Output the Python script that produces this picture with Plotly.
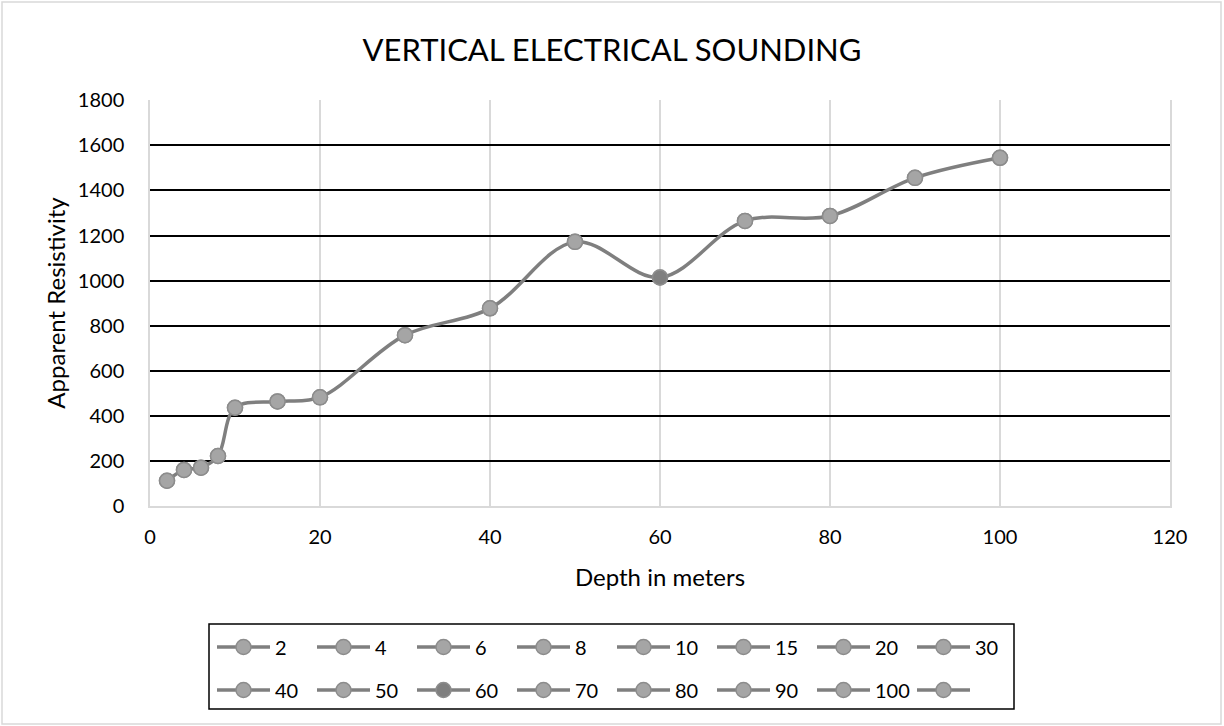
import plotly.graph_objects as go

depth_m = [2, 4, 6, 8, 10, 15, 20, 30, 40, 50, 60, 70, 80, 90, 100]
apparent_resistivity = [112, 160, 170, 222, 436, 464, 482, 758, 877, 1172, 1014, 1265, 1287, 1456, 1545]
legend_names = [str(d) for d in depth_m]
x_ticks = [0, 20, 40, 60, 80, 100, 120]
y_ticks = [0, 200, 400, 600, 800, 1000, 1200, 1400, 1600, 1800]

FONT = "Lato"
LINE_C = "#7f7f7f"
MARK_C = "#a5a5a5"
MARK_EDGE = "#8c8c8c"

fig = go.Figure()

# full smoothed series (last legend entry, blank name)
fig.add_trace(go.Scatter(
    x=depth_m, y=apparent_resistivity, name=" ",
    mode="lines+markers",
    line=dict(color=LINE_C, width=3.5, shape="spline", smoothing=1),
    marker=dict(size=15, color=MARK_C, line=dict(color=MARK_EDGE, width=1.5)),
    legend="legend2", legendrank=2000, hoverinfo="skip",
))

for i, (d, r, nm) in enumerate(zip(depth_m, apparent_resistivity, legend_names)):
    fill = "#7f7f7f" if d == 60 else MARK_C
    fig.add_trace(go.Scatter(
        x=[d], y=[r], name=nm, mode="lines+markers",
        line=dict(color=LINE_C, width=3.5),
        marker=dict(size=15, color=fill, line=dict(color=MARK_EDGE, width=1.5)),
        legend="legend" if i < 8 else "legend2",
        legendrank=1000 + i,
    ))

W, H = 1224, 726
L, R, T, B = 150, 54, 100, 220
pw, ph = W - L - R, H - T - B

def px_x(p):
    return (p - L) / pw

def px_y(p):
    return (H - B - p) / ph

legend_common = dict(
    orientation="h", xanchor="left", yanchor="middle",
    font=dict(family=FONT, size=20, color="black"),
    bgcolor="rgba(0,0,0,0)", borderwidth=0,
    entrywidth=32, entrywidthmode="pixels", itemwidth=53,
    traceorder="normal",
)

fig.update_layout(
    width=W, height=H,
    margin=dict(l=L, r=R, t=T, b=B),
    paper_bgcolor="white", plot_bgcolor="white",
    title=dict(text="VERTICAL ELECTRICAL SOUNDING", x=0.5, xanchor="center",
               y=1 - 50 / H, yanchor="middle",
               font=dict(family=FONT, size=31, color="black")),
    font=dict(family=FONT, size=20, color="black"),
    showlegend=True,
    legend=dict(x=px_x(212), y=px_y(647), **legend_common),
    legend2=dict(x=px_x(212), y=px_y(690), **legend_common),
    xaxis=dict(
        range=[0, 120], tickvals=x_ticks, ticktext=[str(v) for v in x_ticks],
        showgrid=True, gridcolor="#d9d9d9", gridwidth=1.5,
        showline=True, linecolor="#d9d9d9", linewidth=1.5,
        zeroline=False, ticks="", ticklabelstandoff=12,
        tickfont=dict(family=FONT, size=20, color="black"),
        title=dict(text="Depth in meters", standoff=22,
                   font=dict(family=FONT, size=24, color="black")),
        fixedrange=True,
    ),
    yaxis=dict(
        range=[0, 1801.5], tickvals=y_ticks, ticktext=[str(v) for v in y_ticks],
        showgrid=True, gridcolor="black", gridwidth=1.5,
        showline=True, linecolor="#d9d9d9", linewidth=1.5, mirror=True,
        zeroline=True, zerolinecolor="#d9d9d9", zerolinewidth=1.5,
        ticks="", ticklabelstandoff=20,
        tickfont=dict(family=FONT, size=20, color="black"),
        title=dict(text="Apparent Resistivity", standoff=5,
                   font=dict(family=FONT, size=24, color="black")),
        fixedrange=True,
    ),
    shapes=[
        dict(type="rect", xref="paper", yref="paper",
             x0=px_x(209), x1=px_x(1014), y0=px_y(709), y1=px_y(624),
             line=dict(color="black", width=1.5), fillcolor="rgba(0,0,0,0)"),
        dict(type="rect", xref="paper", yref="paper",
             x0=px_x(2), x1=px_x(1221), y0=px_y(724), y1=px_y(2),
             line=dict(color="#d9d9d9", width=1.5), fillcolor="rgba(0,0,0,0)"),
    ],
)

fig.write_html("out.html")
